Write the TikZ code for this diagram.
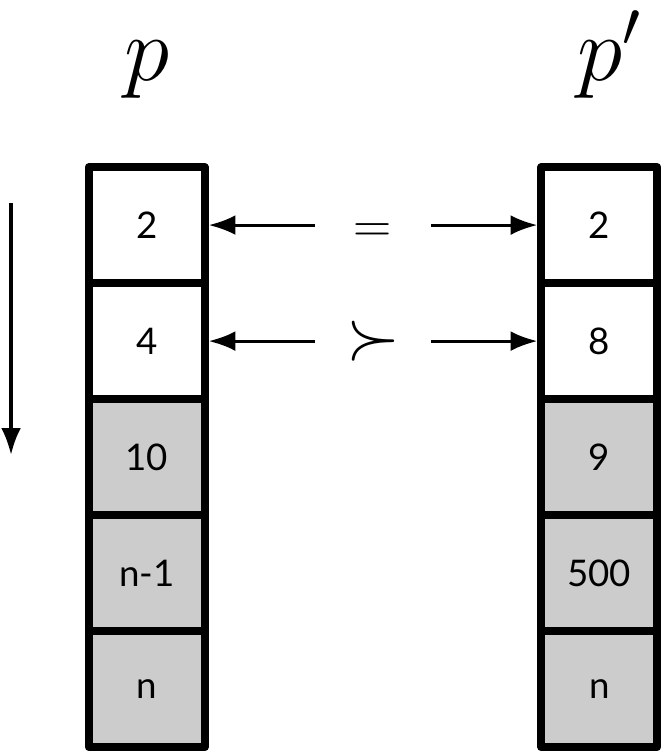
\RequirePackage{fix-cm}
\documentclass[tikz,border=0pt]{standalone}
\usepackage{fontspec}
\newfontfamily\cellfont{Lato}
\usetikzlibrary{arrows.meta}

\begin{document}
\begin{tikzpicture}[
    text=black,
    >={Latex[length=4.6mm, width=3.4mm]},
    cell/.style={rectangle, draw=black, line width=3.8pt, line join=round, minimum width=2cm, minimum height=2cm, inner sep=0pt, font=\cellfont\fontsize{18}{20}\selectfont},
    open/.style={cell, fill=white},
    done/.style={cell, fill=mygray},
    rel/.style={minimum width=2cm, inner sep=0pt, outer sep=0pt},
    arrowline/.style={->, line width=1.5pt},
    title/.style={anchor=base, inner sep=0pt, font=\fontsize{45}{54}\selectfont}
]

% Define custom colors to match the image closely
\definecolor{mygray}{HTML}{CCCCCC}

% page size
\useasboundingbox (0, 0) rectangle (11.45, 12.98);

% ==================== LEFT LIST ====================
\begin{scope}[shift={(2.53, 0)}]
    % Title
    \node[title] (ptitle) at (0, 11.6) {$p$};

    % Cells
    \node[open] (l1) at (0, 9.1) {2};
    \node[open] (l2) at (0, 7.1) {4};
    \node[done] (l3) at (0, 5.1) {10};
    \node[done] (l4) at (0, 3.1) {n-1};
    \node[done] (l5) at (0, 1.1) {n};
\end{scope}

% ==================== RIGHT LIST ====================
\begin{scope}[shift={(10.33, 0)}]
    % Title
    \node[title, xshift=0.17cm] (qtitle) at (0, 11.6) {$p'$};

    % Cells
    \node[open] (r1) at (0, 9.1) {2};
    \node[open] (r2) at (0, 7.1) {8};
    \node[done] (r3) at (0, 5.1) {9};
    \node[done] (r4) at (0, 3.1) {500};
    \node[done] (r5) at (0, 1.1) {n};
\end{scope}

% ==================== COMPARISON ====================
\node[rel, text height=17pt, text depth=0pt, font=\fontsize{26}{30}\selectfont] (eq) at (6.43, 9.1) {$=$};
\node[rel, font=\fontsize{34}{38}\selectfont] (succ) at (6.43, 7.1) {$\succ$};

% Arrows
\draw[arrowline] (eq) -- (l1);
\draw[arrowline] (eq) -- (r1);
\draw[arrowline] (succ) -- (l2);
\draw[arrowline] (succ) -- (r2);

% Order arrow
\coordinate (ordtop) at (0.19, 9.48);
\coordinate (ordbot) at (0.19, 5.14);
\draw[arrowline] (ordtop) -- (ordbot);

\end{tikzpicture}
\end{document}
